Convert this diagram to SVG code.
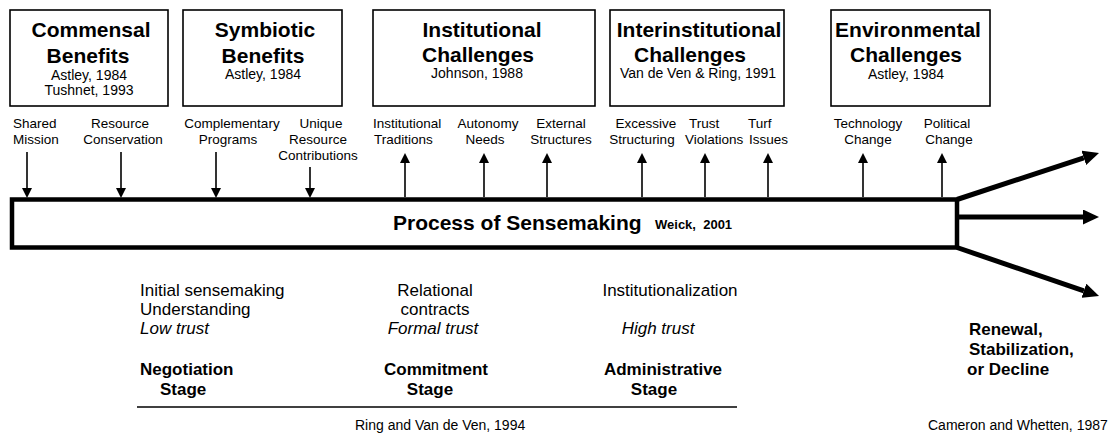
<svg xmlns="http://www.w3.org/2000/svg" width="1116" height="438" viewBox="0 0 1116 438">
<style>
  text { font-family: "Liberation Sans", Arial, sans-serif; fill: #000; }
  .t { font-size: 21px; font-weight: bold; text-anchor: middle; }
  .c { font-size: 14px; text-anchor: middle; }
  .s { font-size: 13.5px; text-anchor: middle; }
  .b { font-size: 17px; }
  .bb { font-size: 17px; font-weight: bold; }
  .i { font-style: italic; }
  .box { fill: #fff; stroke: #000; stroke-width: 1.6; }
  .thin { stroke: #000; stroke-width: 1.6; fill: none; }
  .thick { stroke: #000; stroke-width: 5; fill: none; }
</style>
<defs>
  <marker id="ah" markerUnits="userSpaceOnUse" markerWidth="10" markerHeight="10" refX="0" refY="5" orient="auto">
    <path d="M0,0 L10,5 L0,10 Z" fill="#000"/>
  </marker>
  <marker id="bh" markerUnits="userSpaceOnUse" markerWidth="16" markerHeight="15" refX="0" refY="7.5" orient="auto">
    <path d="M0,0 L16,7.5 L0,15 Z" fill="#000"/>
  </marker>
</defs>
<rect width="1116" height="438" fill="#fff"/>

<g id="commensal">
  <rect class="box" x="10" y="10" width="158" height="96"/>
  <text class="t" x="91" y="37">Commensal</text>
  <text class="t" x="88" y="63">Benefits</text>
  <text class="c" x="89" y="80">Astley, 1984</text>
  <text class="c" x="89" y="95">Tushnet, 1993</text>
</g>
<g id="symbiotic">
  <rect class="box" x="183" y="10" width="159" height="96"/>
  <text class="t" x="265" y="37">Symbiotic</text>
  <text class="t" x="263" y="63">Benefits</text>
  <text class="c" x="263" y="79">Astley, 1984</text>
</g>
<g id="institutional">
  <rect class="box" x="373" y="10" width="222" height="96"/>
  <text class="t" x="482" y="37">Institutional</text>
  <text class="t" x="478" y="62">Challenges</text>
  <text class="c" x="477" y="78">Johnson, 1988</text>
</g>
<g id="interinstitutional">
  <rect class="box" x="610" y="10" width="174" height="96"/>
  <text class="t" x="699" y="37">Interinstitutional</text>
  <text class="t" x="690" y="62">Challenges</text>
  <text class="c" x="698" y="78">Van de Ven &amp; Ring, 1991</text>
</g>
<g id="environmental">
  <rect class="box" x="831" y="10" width="159" height="96"/>
  <text class="t" x="908" y="37">Environmental</text>
  <text class="t" x="906" y="62">Challenges</text>
  <text class="c" x="906" y="79">Astley, 1984</text>
</g>

<g id="labels">
  <text class="s" style="text-anchor:start" x="13" y="128">Shared</text>
  <text class="s" style="text-anchor:start" x="13" y="144">Mission</text>
  <text class="s" x="120" y="128">Resource</text>
  <text class="s" x="123" y="144">Conservation</text>
  <text class="s" x="232" y="128">Complementary</text>
  <text class="s" x="228" y="144">Programs</text>
  <text class="s" x="321" y="128">Unique</text>
  <text class="s" x="318" y="144">Resource</text>
  <text class="s" x="318" y="160">Contributions</text>
  <text class="s" style="text-anchor:start" x="373" y="128">Institutional</text>
  <text class="s" style="text-anchor:start" x="374" y="144">Traditions</text>
  <text class="s" x="488" y="128">Autonomy</text>
  <text class="s" x="485" y="144">Needs</text>
  <text class="s" x="561" y="128">External</text>
  <text class="s" x="561" y="144">Structures</text>
  <text class="s" x="646" y="128">Excessive</text>
  <text class="s" x="642" y="144">Structuring</text>
  <text class="s" style="text-anchor:start" x="689" y="128">Trust</text>
  <text class="s" style="text-anchor:start" x="685" y="144">Violations</text>
  <text class="s" style="text-anchor:start" x="748" y="128">Turf</text>
  <text class="s" style="text-anchor:start" x="749" y="144">Issues</text>
  <text class="s" x="868" y="128">Technology</text>
  <text class="s" x="868" y="144">Change</text>
  <text class="s" x="947" y="128">Political</text>
  <text class="s" x="949" y="144">Change</text>
</g>

<g id="process">
  <rect x="12" y="199.5" width="945" height="48" fill="#fff" stroke="#000" stroke-width="4.5"/>
  <text x="393" y="230" style="font-size:21px;font-weight:bold">Process of Sensemaking</text>
  <text x="655" y="229" style="font-size:13px;font-weight:bold" xml:space="preserve">Weick,  2001</text>
</g>

<g id="connectors">
  <line class="thin" x1="27" y1="152" x2="27" y2="188" marker-end="url(#ah)"/>
  <line class="thin" x1="121" y1="152" x2="121" y2="188" marker-end="url(#ah)"/>
  <line class="thin" x1="216" y1="152" x2="216" y2="188" marker-end="url(#ah)"/>
  <line class="thin" x1="310" y1="167" x2="310" y2="188" marker-end="url(#ah)"/>
  <line class="thin" x1="405" y1="197" x2="405" y2="163" marker-end="url(#ah)"/>
  <line class="thin" x1="484" y1="197" x2="484" y2="163" marker-end="url(#ah)"/>
  <line class="thin" x1="547" y1="197" x2="547" y2="163" marker-end="url(#ah)"/>
  <line class="thin" x1="642" y1="197" x2="642" y2="163" marker-end="url(#ah)"/>
  <line class="thin" x1="705" y1="197" x2="705" y2="163" marker-end="url(#ah)"/>
  <line class="thin" x1="768" y1="197" x2="768" y2="163" marker-end="url(#ah)"/>
  <line class="thin" x1="863" y1="197" x2="863" y2="163" marker-end="url(#ah)"/>
  <line class="thin" x1="942" y1="197" x2="942" y2="163" marker-end="url(#ah)"/>
  <line class="thick" x1="957" y1="199.5" x2="1083.8" y2="157.9" marker-end="url(#bh)"/>
  <line class="thick" x1="959" y1="217" x2="1083" y2="217" marker-end="url(#bh)"/>
  <line class="thick" x1="957" y1="247.5" x2="1083.9" y2="290.8" marker-end="url(#bh)"/>
</g>

<g id="negotiation">
  <text class="b" x="140" y="296">Initial sensemaking</text>
  <text class="b" x="140" y="315">Understanding</text>
  <text class="b i" x="140" y="334">Low trust</text>
  <text class="bb" x="140" y="375">Negotiation</text>
  <text class="bb" x="160" y="395">Stage</text>
</g>
<g id="commitment" style="text-anchor:middle">
  <text class="b" x="435" y="296">Relational</text>
  <text class="b" x="435" y="315">contracts</text>
  <text class="b i" x="433" y="334">Formal trust</text>
  <text class="bb" x="436" y="375">Commitment</text>
  <text class="bb" x="430" y="395">Stage</text>
</g>
<g id="administrative" style="text-anchor:middle">
  <text class="b" x="670" y="296">Institutionalization</text>
  <text class="b i" x="658" y="334">High trust</text>
  <text class="bb" x="663" y="375">Administrative</text>
  <text class="bb" x="654" y="395">Stage</text>
</g>
<g id="outcome">
  <text class="bb" x="969" y="335">Renewal,</text>
  <text class="bb" x="969" y="355">Stabilization,</text>
  <text class="bb" x="967" y="375">or Decline</text>
</g>
<g id="footer">
  <line x1="137" y1="407" x2="737" y2="407" stroke="#000" stroke-width="1.6"/>
  <text x="355" y="430" style="font-size:14px">Ring and Van de Ven, 1994</text>
  <text x="928" y="430" style="font-size:14px">Cameron and Whetten, 1987</text>
</g>
</svg>
